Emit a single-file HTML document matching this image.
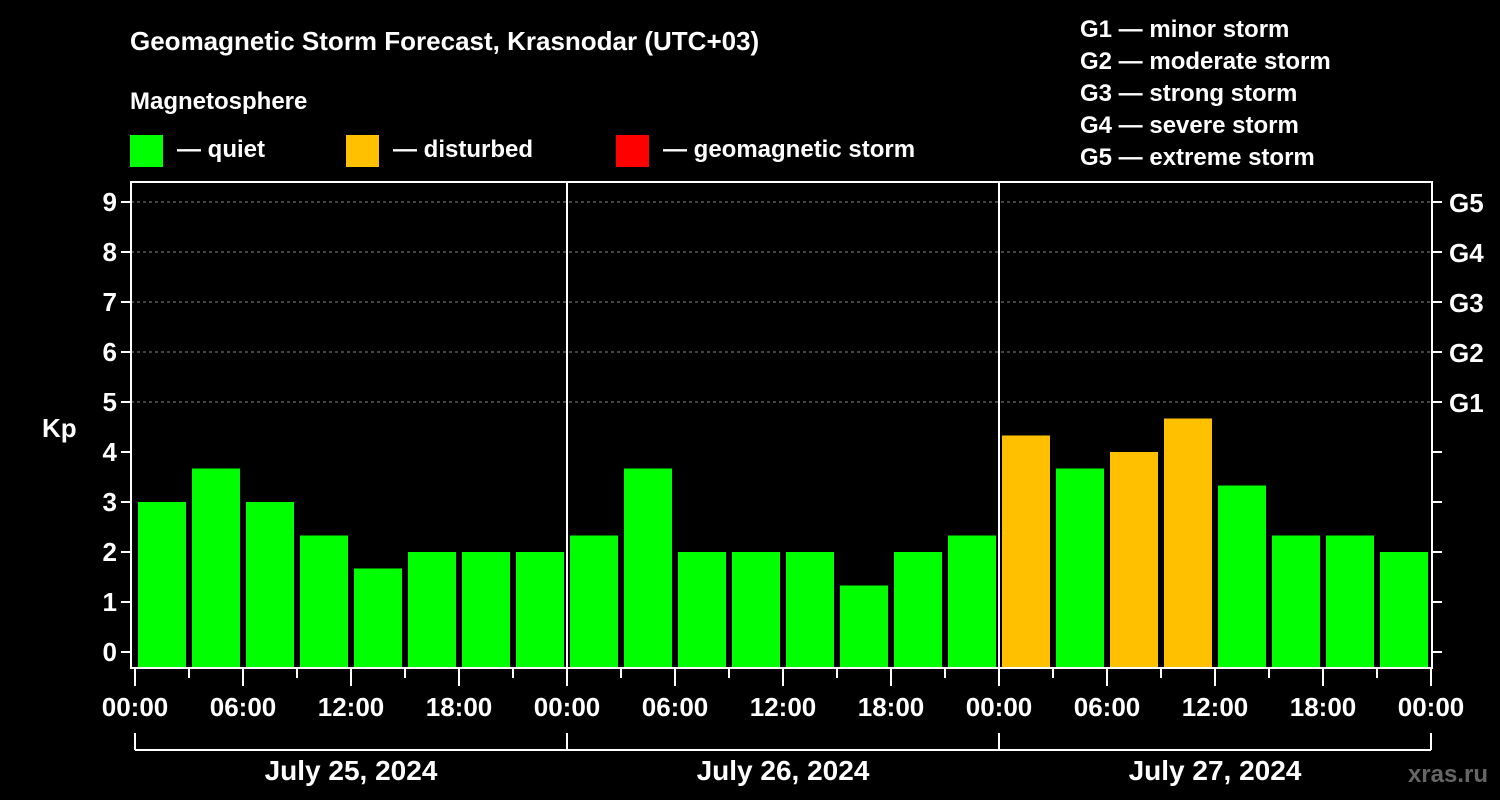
<!DOCTYPE html>
<html><head><meta charset="utf-8"><style>
html,body{margin:0;padding:0;background:#000;}
svg{display:block;font-family:"Liberation Sans",Arial,sans-serif;font-weight:bold;}
</style></head><body>
<svg id="chart" width="1500" height="800" viewBox="0 0 1500 800">
<rect x="0" y="0" width="1500" height="800" fill="#000"/>
<text x="130" y="50" fill="#fff" font-size="26">Geomagnetic Storm Forecast, Krasnodar (UTC+03)</text>
<text x="130" y="109" fill="#fff" font-size="24">Magnetosphere</text>
<g><rect x="130" y="135" width="33" height="32" fill="#00ff00"/><text x="177" y="157" fill="#fff" font-size="24">— quiet</text></g>
<g><rect x="346" y="135" width="33" height="32" fill="#ffc000"/><text x="393" y="157" fill="#fff" font-size="24">— disturbed</text></g>
<g><rect x="616" y="135" width="33" height="32" fill="#ff0000"/><text x="663" y="157" fill="#fff" font-size="24">— geomagnetic storm</text></g>
<g fill="#fff" font-size="24">
<text x="1080" y="37">G1 — minor storm</text>
<text x="1080" y="69">G2 — moderate storm</text>
<text x="1080" y="101">G3 — strong storm</text>
<text x="1080" y="133">G4 — severe storm</text>
<text x="1080" y="165">G5 — extreme storm</text>
</g>
<text x="42" y="437" fill="#fff" font-size="26">Kp</text>
<text x="1488" y="782" fill="#666" font-size="24" text-anchor="end">xras.ru</text>
<g id="plot"></g>
</svg>
<script>
const values = [3.0,3.67,3.0,2.33,1.67,2.0,2.0,2.0, 2.33,3.67,2.0,2.0,2.0,1.33,2.0,2.33, 4.33,3.67,4.0,4.67,3.33,2.33,2.33,2.0];
const days = ["July 25, 2024","July 26, 2024","July 27, 2024"];
const hourLabels = ["00:00","06:00","12:00","18:00"];
const gLabels = ["G1","G2","G3","G4","G5"];
const yTicks = [0,1,2,3,4,5,6,7,8,9];

const NS="http://www.w3.org/2000/svg";
const plot=document.getElementById('plot');
const X0=135, PER_H=18, PLOT_L=131, PLOT_R=1432, PLOT_T=182, PLOT_B=668;
const x=h=>X0+h*PER_H;
const y=v=>652-v*50;
function mk(tag,attrs,parent){const e=document.createElementNS(NS,tag);for(const k in attrs)e.setAttribute(k,attrs[k]);(parent||plot).appendChild(e);return e;}

// gridlines
yTicks.forEach(v=>{
  if(v>=5){const l=mk('line',{x1:PLOT_L,x2:PLOT_R,y1:y(v),y2:y(v),stroke:'#888','stroke-dasharray':'3,3','stroke-width':1});
  
  }
  const t=mk('line',{x1:PLOT_L-10,x2:PLOT_L,y1:y(v),y2:y(v),stroke:'#fff','stroke-width':2});
  
  
  const t2=mk('line',{x1:PLOT_R,x2:PLOT_R+10,y1:y(v),y2:y(v),stroke:'#fff','stroke-width':2});
  
  
  const lb=mk('text',{x:PLOT_L-14,y:y(v)+9,fill:'#fff','font-size':26,'text-anchor':'end'});
  lb.textContent=v;
  
  
});
gLabels.forEach((g,i)=>{
  const lb=mk('text',{x:PLOT_R+17,y:y(5+i)+10,fill:'#fff','font-size':26});
  lb.textContent=g;
  
  
});
// bars
values.forEach((v,i)=>{
  const top=y(v);
  const r=mk('rect',{x:x(i*3)+3,y:top,width:48,height:PLOT_B-top,fill:v>=4?'#ffc000':(v>=5?'#ff0000':'#00ff00')});
  
  
});
// day separators
[1,2].forEach(d=>{
  const l=mk('line',{x1:x(d*24),x2:x(d*24),y1:PLOT_T,y2:PLOT_B,stroke:'#fff','stroke-width':2});
  
  
});
// frame
const fr=mk('rect',{x:PLOT_L,y:PLOT_T,width:PLOT_R-PLOT_L,height:PLOT_B-PLOT_T,fill:'none',stroke:'#fff','stroke-width':2});


// x ticks
for(let h=0;h<=72;h+=3){
  const major=h%6===0;
  const t=mk('line',{x1:x(h),x2:x(h),y1:PLOT_B,y2:major?686:678,stroke:'#fff','stroke-width':2});
  
  
  if(major){
    const lb=mk('text',{x:x(h),y:716,fill:'#fff','font-size':26,'text-anchor':'middle'});
    lb.textContent=hourLabels[(h%24)/6];
    
    
  }
}
// day brackets
const br=mk('line',{x1:x(0),x2:x(72),y1:750,y2:750,stroke:'#fff','stroke-width':2});


for(let d=0;d<=3;d++){
  const t=mk('line',{x1:x(d*24),x2:x(d*24),y1:733,y2:750,stroke:'#fff','stroke-width':2});
  
  
}
days.forEach((d,i)=>{
  const lb=mk('text',{x:x(i*24+12),y:780,fill:'#fff','font-size':28,'text-anchor':'middle'});
  lb.textContent=d;
  
  
});
</script>
</body></html>
